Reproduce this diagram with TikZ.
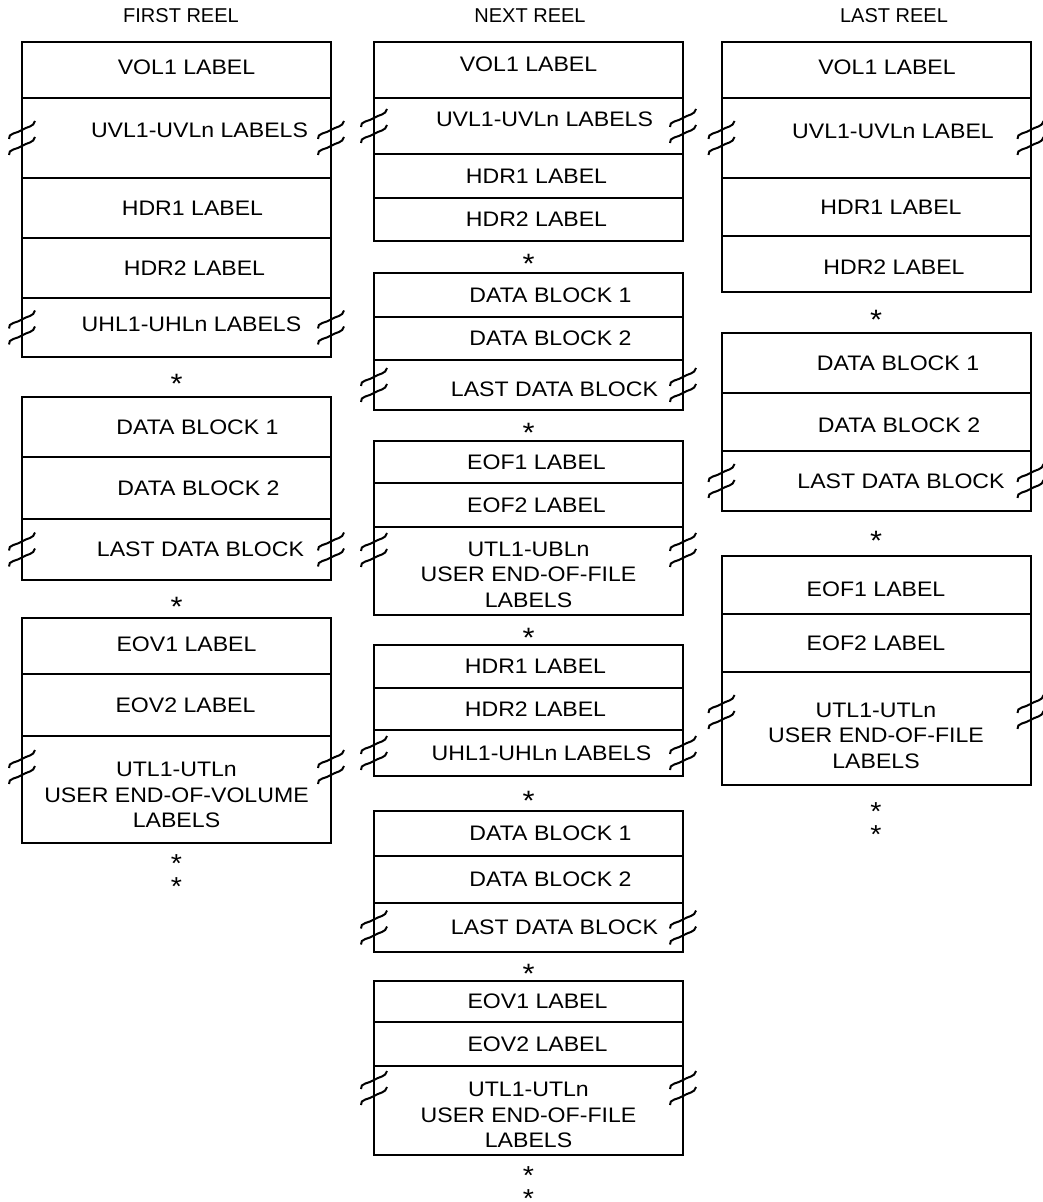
\documentclass[tikz,border=0pt]{standalone}
\usepackage{fontspec}
\setmainfont{Liberation Sans}[FakeStretch=1.1]
\newfontfamily\ttlfont{Liberation Sans}
\usetikzlibrary{positioning,calc}
\newcommand{\tsh}[1]{\hspace*{#1}}
\newcommand{\tup}[1]{\rule[-#1]{0pt}{#1}}
\newcommand{\tdn}[1]{\rule{0pt}{#1}}

\begin{document}
\begin{tikzpicture}[line width=1pt,
  sec/.style={draw,rectangle,minimum width=154.5pt,minimum height=#1,inner sep=0pt,outer sep=0pt,align=center,font=\fontsize{10.5}{12.75}\selectfont},
  ttl/.style={font=\ttlfont\fontsize{10}{12}\selectfont},
  astr/.style={anchor=base,yshift=-8.5pt,inner sep=0pt,font=\fontsize{14}{14}\selectfont},
  astr2/.style={anchor=north,inner sep=0pt,align=center,font=\fontsize{13}{11.8}\selectfont},
  brk/.pic={\foreach \dy in {-4pt,4pt}
    \draw[yshift=\dy] (-6.5pt,-4.5pt) to[out=100,in=215] (0,0) to[out=35,in=260] (6.5pt,4.5pt);}]
\useasboundingbox (0,0) rectangle (521pt,-601pt);

% titles
\node[ttl] (ftit) at (90.5pt,-8pt) {FIRST REEL};
\node[ttl] (ntit) at (265pt,-8pt) {NEXT REEL};
\node[ttl] (ltit) at (447pt,-8pt) {LAST REEL};

% first reel
\node[sec=28pt,anchor=north] (fvol) at (88.25pt,-21pt) {\tsh{10pt}\tup{3pt}VOL1 LABEL};
\node[sec=40pt,below=0pt of fvol] (fuvl) {\tsh{23pt}\tup{8pt}UVL1-UVLn LABELS};
\node[sec=30pt,below=0pt of fuvl] (fhdr1) {\tsh{16pt}HDR1 LABEL};
\node[sec=30pt,below=0pt of fhdr1] (fhdr2) {\tsh{18pt}HDR2 LABEL};
\node[sec=29.5pt,below=0pt of fhdr2] (fuhl) {\tsh{15pt}\tup{3pt}UHL1-UHLn LABELS};
\node[sec=30pt,below=20pt of fuhl] (fdb1) {\tsh{21pt}DATA BLOCK 1};
\node[sec=31pt,below=0pt of fdb1] (fdb2) {\tsh{22pt}DATA BLOCK 2};
\node[sec=30.5pt,below=0pt of fdb2] (fdbl) {\tsh{24pt}LAST DATA BLOCK};
\node[sec=28pt,below=19pt of fdbl] (feov1) {\tsh{10pt}\tup{2pt}EOV1 LABEL};
\node[sec=31pt,below=0pt of feov1] (feov2) {\tsh{9pt}EOV2 LABEL};
\node[sec=53.5pt,below=0pt of feov2] (futl) {\tdn{12.6pt}UTL1-UTLn\\USER END-OF-VOLUME\\LABELS};
\node[astr] (fs1) at ($(fuhl.south)!.5!(fdb1.north)$) {*};
\node[astr] (fs2) at ($(fdbl.south)!.5!(feov1.north)$) {*};
\node[astr2] (fs3) at ([yshift=-5.2pt]futl.south) {*\\*};

% next reel
\node[sec=28pt,anchor=north] (nvol) at (264.25pt,-21pt) {\tup{6pt}VOL1 LABEL};
\node[sec=28pt,below=0pt of nvol] (nuvl) {\tsh{16pt}\tup{7pt}UVL1-UVLn LABELS};
\node[sec=22pt,below=0pt of nuvl] (nhdr1) {\tsh{8pt}HDR1 LABEL};
\node[sec=21.5pt,below=0pt of nhdr1] (nhdr2) {\tsh{8pt}HDR2 LABEL};
\node[sec=22pt,below=16pt of nhdr2] (ndb1) {\tsh{22pt}DATA BLOCK 1};
\node[sec=21.5pt,below=0pt of ndb1] (ndb2) {\tsh{22pt}DATA BLOCK 2};
\node[sec=25pt,below=0pt of ndb2] (ndbl) {\tsh{26pt}\tdn{11.6pt}LAST DATA BLOCK};
\node[sec=21pt,below=15.5pt of ndbl] (neof1) {\tsh{8pt}EOF1 LABEL};
\node[sec=22pt,below=0pt of neof1] (neof2) {\tsh{8pt}EOF2 LABEL};
\node[sec=44pt,below=0pt of neof2] (nufl) {\tdn{11.1pt}UTL1-UBLn\\USER END-OF-FILE\\LABELS};
\node[sec=21.5pt,below=15pt of nufl] (nhdr3) {\tsh{7pt}HDR1 LABEL};
\node[sec=21pt,below=0pt of nhdr3] (nhdr4) {\tsh{7pt}HDR2 LABEL};
\node[sec=23pt,below=0pt of nhdr4] (nuhl) {\tsh{13pt}UHL1-UHLn LABELS};
\node[sec=22.5pt,below=17.5pt of nuhl] (ndb3) {\tsh{22pt}DATA BLOCK 1};
\node[sec=23.5pt,below=0pt of ndb3] (ndb4) {\tsh{22pt}DATA BLOCK 2};
\node[sec=24.5pt,below=0pt of ndb4] (ndbl2) {\tsh{26pt}LAST DATA BLOCK};
\node[sec=20.5pt,below=14.5pt of ndbl2] (neov1) {\tsh{9pt}EOV1 LABEL};
\node[sec=22pt,below=0pt of neov1] (neov2) {\tsh{9pt}EOV2 LABEL};
\node[sec=44.5pt,below=0pt of neov2] (nutl) {\tdn{11.6pt}UTL1-UTLn\\USER END-OF-FILE\\LABELS};
\node[astr] (ns1) at ($(nhdr2.south)!.5!(ndb1.north)$) {*};
\node[astr] (ns2) at ($(ndbl.south)!.5!(neof1.north)$) {*};
\node[astr] (ns3) at ($(nufl.south)!.5!(nhdr3.north)$) {*};
\node[astr] (ns4) at ($(nuhl.south)!.5!(ndb3.north)$) {*};
\node[astr] (ns5) at ($(ndbl2.south)!.5!(neov1.north)$) {*};
\node[astr2] (ns6) at ([yshift=-5.2pt]nutl.south) {*\\*};

% last reel
\node[sec=28pt,anchor=north] (lvol) at (438pt,-21pt) {\tsh{11pt}\tup{3pt}VOL1 LABEL};
\node[sec=40pt,below=0pt of lvol] (luvl) {\tsh{17pt}\tup{7pt}UVL1-UVLn LABEL};
\node[sec=29pt,below=0pt of luvl] (lhdr1) {\tsh{15pt}HDR1 LABEL};
\node[sec=28pt,below=0pt of lhdr1] (lhdr2) {\tsh{18pt}\tdn{10.6pt}HDR2 LABEL};
\node[sec=30pt,below=20.5pt of lhdr2] (ldb1) {\tsh{22pt}DATA BLOCK 1};
\node[sec=29pt,below=0pt of ldb1] (ldb2) {\tsh{23pt}\tdn{10.6pt}DATA BLOCK 2};
\node[sec=30pt,below=0pt of ldb2] (ldbl) {\tsh{25pt}LAST DATA BLOCK};
\node[sec=29pt,below=22.5pt of ldbl] (leof1) {\tdn{11.6pt}EOF1 LABEL};
\node[sec=29pt,below=0pt of leof1] (leof2) {EOF2 LABEL};
\node[sec=56.5pt,below=0pt of leof2] (lutl) {\tdn{14.1pt}UTL1-UTLn\\USER END-OF-FILE\\LABELS};
\node[astr] (ls1) at ($(lhdr2.south)!.5!(ldb1.north)$) {*};
\node[astr] (ls2) at ($(ldbl.south)!.5!(leof1.north)$) {*};
\node[astr2] (ls3) at ([yshift=-8.2pt]lutl.south) {*\\*};

% breaks
\foreach \r in {fuvl,fuhl,fdbl,nuvl,ndbl,nuhl,ndbl2,luvl,ldbl}{
  \pic at (\r.west) {brk};
  \pic at (\r.east) {brk};}
\pic at ([yshift=-15.5pt]futl.north west) {brk};
\pic at ([yshift=-15.5pt]futl.north east) {brk};
\pic at ([yshift=-11.5pt]nufl.north west) {brk};
\pic at ([yshift=-11.5pt]nufl.north east) {brk};
\pic at ([yshift=-11pt]nutl.north west) {brk};
\pic at ([yshift=-11pt]nutl.north east) {brk};
\pic at ([yshift=-20pt]lutl.north west) {brk};
\pic at ([yshift=-20pt]lutl.north east) {brk};
\end{tikzpicture}
\end{document}
